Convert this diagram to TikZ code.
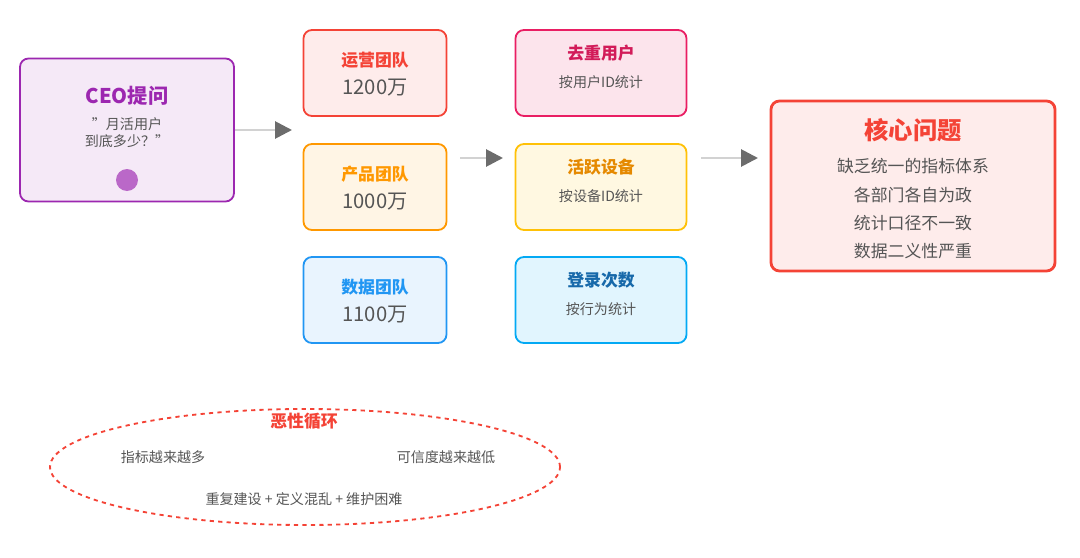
\documentclass[tikz,border=0pt]{standalone}
\usepackage{fontspec}
\setmainfont{Noto Sans CJK SC}
\usetikzlibrary{positioning,calc,arrows.meta,shapes.geometric}
\definecolor{cpur}{HTML}{9C27B0}
\definecolor{cred}{HTML}{F44336}
\definecolor{cora}{HTML}{FF9800}
\definecolor{cblu}{HTML}{2196F3}
\definecolor{cpnk}{HTML}{E91E63}
\definecolor{camb}{HTML}{FFC107}
\definecolor{clbl}{HTML}{03A9F4}
\definecolor{ctxt}{HTML}{555555}
\tikzset{
  box/.style={draw, rounded corners=6pt, line width=1.3pt, align=center, text=ctxt},
  flow/.style={draw=gray!35, line width=2pt, -{Triangle[length=12pt,width=12pt,color=gray!85!black]}},
}
\begin{document}
\begin{tikzpicture}[x=0.025cm,y=-0.025cm]
\useasboundingbox (0,0) rectangle (1080,558);
% left: question
\node[box, draw=cpur, fill=cpur!10, minimum width=214*0.025cm, minimum height=143*0.025cm] (ceo) at (127,130) {};
\node[text=cpur, font=\bfseries\Large] (ceot) at (127,96) {CEO提问};
\node[text=ctxt, align=center, font=\normalsize] (ceoq) at (127,133) {\char"22月活用户\\到底多少？\char"22};
\node[circle, fill=cpur!70, minimum size=22*0.025cm, inner sep=0pt] (dot) at (127,180) {};
% teams
\foreach \n/\t/\v/\c/\y in {ops/运营团队/1200万/cred/73, prod/产品团队/1000万/cora/187, data/数据团队/1100万/cblu/300}{
  \node[box, draw=\c, fill=\c!10, minimum width=143*0.025cm, minimum height=86*0.025cm] (\n) at (375,\y) {};
  \node[text=\c, font=\bfseries\large] at (375,\y-13) {\t};
  \node[text=ctxt, font=\Large] at (375,\y+15) {\v};
}
% metrics
\foreach \n/\t/\v/\c/\tc/\y in {uniq/去重用户/按用户ID统计/cpnk/cpnk!90!black/73, dev/活跃设备/按设备ID统计/camb/cora!90!black/187, login/登录次数/按行为统计/clbl/cblu!70!black/300}{
  \node[box, draw=\c, fill=\c!12, minimum width=171*0.025cm, minimum height=86*0.025cm] (\n) at (601,\y) {};
  \node[text=\tc, font=\bfseries\large] at (601,\y-20) {\t};
  \node[text=ctxt, font=\normalsize] at (601,\y+9) {\v};
}
% core problem
\node[box, draw=cred, fill=cred!10, line width=2pt, minimum width=284*0.025cm, minimum height=170*0.025cm] (core) at (913,186) {};
\node[text=cred, font=\bfseries\LARGE] (coret) at (913,130) {核心问题};
\foreach \t/\y in {缺乏统一的指标体系/166, 各部门各自为政/195, 统计口径不一致/223, 数据二义性严重/251}
  \node[text=ctxt, font=\large] at (913,\y) {\t};
% arrows
\coordinate (a1) at (292,130);
\coordinate (b0) at (460,158);
\coordinate (b1) at (503,158);
\coordinate (c0) at (701,158);
\coordinate (c1) at (758,158);
\draw[flow] (ceo.east) -- (a1);
\draw[flow] (b0) -- (b1);
\draw[flow] (c0) -- (c1);
% vicious cycle
\node[draw=cred, dashed, line width=1.3pt, ellipse, minimum width=510*0.025cm, minimum height=116*0.025cm] (loop) at (305,467) {};
\node[text=cred, font=\bfseries\large] at (304,421) {恶性循环};
\node[text=ctxt, font=\normalsize] at (163,457) {指标越来越多};
\node[text=ctxt, font=\normalsize] at (446,457) {可信度越来越低};
\node[text=ctxt, font=\normalsize] at (304,499) {重复建设 + 定义混乱 + 维护困难};
\end{tikzpicture}
\end{document}
